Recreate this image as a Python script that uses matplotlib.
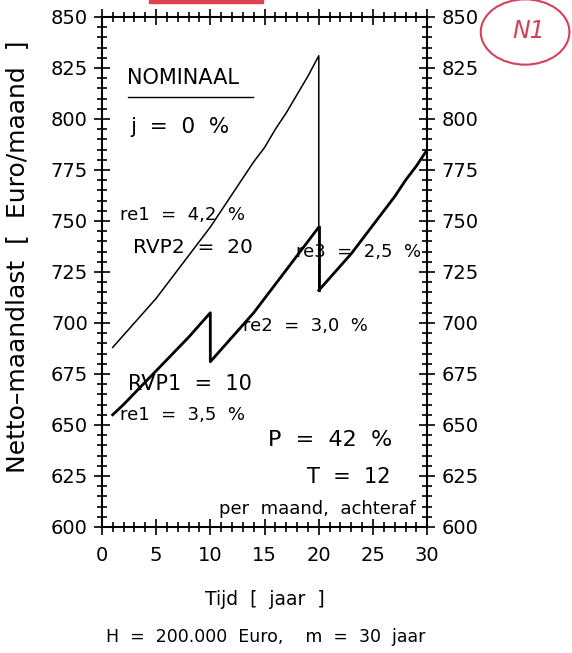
import matplotlib.pyplot as plt
from matplotlib.ticker import MultipleLocator
from matplotlib.patches import Ellipse

# upper scenario: re1 = 4,2 % up to RVP2 = 20
upper_years = [1, 2, 3, 4, 5, 6, 7, 8, 9, 10, 11, 12, 13, 14, 15, 16, 17, 18, 19, 20]
upper_vals = [688, 694, 700, 706, 712, 719, 726, 733, 740, 747,
              755, 763, 771, 779, 786, 795, 803, 812, 821, 831]

# lower scenario: re1 = 3,5 % up to RVP1 = 10, then re2 = 3,0 % up to 20
lower_years_a = [1, 2, 3, 4, 5, 6, 7, 8, 9, 10]
lower_vals_a = [655, 660, 665.5, 671, 676.5, 682, 687.5, 693, 699, 705]
lower_years_b = [10, 11, 12, 13, 14, 15, 16, 17, 18, 19, 20]
lower_vals_b = [681, 687, 693, 699, 705, 712, 719, 726, 733, 740, 747]

# after year 20: re3 = 2,5 %
end_years = [20, 21, 22, 23, 24, 25, 26, 27, 28, 29, 30]
end_vals = [716, 722, 728, 734, 741, 748, 755, 762, 770, 777, 785]

plt.rcParams['font.family'] = 'DejaVu Sans'

fig = plt.figure(figsize=(5.72, 6.53), dpi=100)
ax = fig.add_axes([0.178, 0.193, 0.569, 0.781])

# thin upper line with drop at 20
ax.plot(upper_years + [20], upper_vals + [end_vals[0]], color='black', lw=1.1)
# thick lower line
ax.plot(lower_years_a + lower_years_b, lower_vals_a + lower_vals_b, color='black', lw=2.0)
ax.plot([20, 20], [lower_vals_b[-1], end_vals[0]], color='black', lw=2.0)
ax.plot(end_years, end_vals, color='black', lw=2.0)

ax.set_xlim(0, 30)
ax.set_ylim(600, 850)
ax.xaxis.set_major_locator(MultipleLocator(5))
ax.xaxis.set_minor_locator(MultipleLocator(1))
ax.yaxis.set_major_locator(MultipleLocator(25))
ax.yaxis.set_minor_locator(MultipleLocator(5))
ax.tick_params(which='both', direction='inout', top=True, right=True,
               labelright=True, width=1.2, labelsize=14, colors='black')
ax.tick_params(which='major', length=12, pad=4)
ax.tick_params(which='minor', length=7)
ax.tick_params(axis='x', which='major', pad=8)
for s in ax.spines.values():
    s.set_linewidth(1.5)

ax.set_xlabel('Tijd  [  jaar  ]', fontsize=13.5, labelpad=18)
ax.set_ylabel('Netto\u2013maandlast  [  Euro/maand  ]', fontsize=18)
ax.yaxis.set_label_coords(-0.222, 0.53)

ts = 13
ax.text(2.3, 820, 'NOMINAAL', fontsize=15, va='center')
ax.plot([2.4, 13.9], [811, 811], color='black', lw=1.0)
ax.text(2.6, 796, 'j  =  0  %', fontsize=15.5, va='center')
ax.text(1.7, 753, 're1  =  4,2  %', fontsize=ts, va='center')
ax.text(2.9, 737, 'RVP2  =  20', fontsize=14.5, va='center')
ax.text(17.9, 735, 're3  =  2,5  %', fontsize=ts, va='center')
ax.text(13.0, 698.5, 're2  =  3,0  %', fontsize=ts, va='center')
ax.text(2.4, 670, 'RVP1  =  10', fontsize=15, va='center')
ax.text(1.7, 655, 're1  =  3,5  %', fontsize=ts, va='center')
ax.text(15.3, 642.6, 'P  =  42  %', fontsize=16, va='center')
ax.text(26.6, 624.5, 'T  =  12', fontsize=15, va='center', ha='right')
ax.text(28.9, 609, 'per  maand,  achteraf', fontsize=ts, va='center', ha='right')

fig.text(0.465, 0.025, 'H  =  200.000  Euro,    m  =  30  jaar', fontsize=12.5,
         ha='center', va='center')

# handwritten red marks on the scan
fig.patches.append(Ellipse((0.918, 0.951), 0.155, 0.1, transform=fig.transFigure,
                           fill=False, edgecolor='#d6405a', lw=1.5))
fig.text(0.925, 0.952, 'N1', color='#d6405a', fontsize=17, style='italic',
         ha='center', va='center')
fig.patches.append(plt.Rectangle((0.26, 0.995), 0.2, 0.01, transform=fig.transFigure,
                                 color='#e0404f'))

fig.savefig('out.png', dpi=100)
